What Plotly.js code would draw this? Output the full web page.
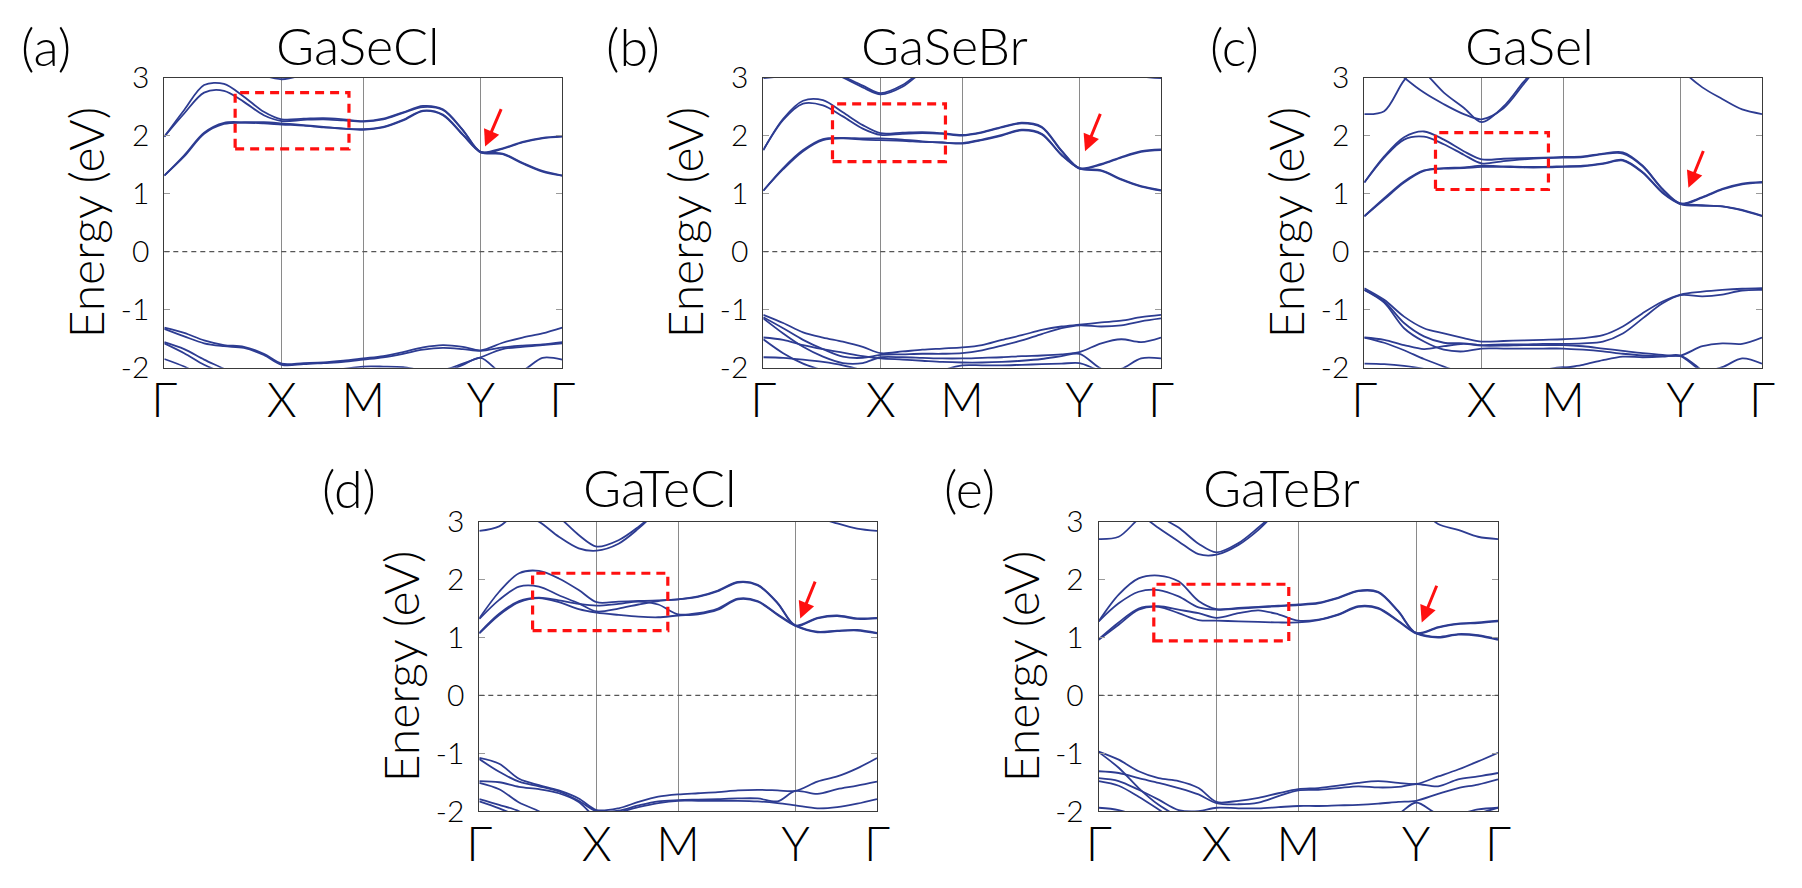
<!DOCTYPE html>
<html><head><meta charset="utf-8">
<script src="https://cdn.plot.ly/plotly-3.0.1.min.js"></script>
<style>html,body{margin:0;padding:0;background:#fff}#chart{width:1802px;height:888px}</style>
</head><body><div id="chart"></div>
<script>
// ---------------- data ----------------
const kPath = [0, 0.05, 0.1, 0.15, 0.2, 0.25, 0.295, 0.35, 0.4, 0.45, 0.5, 0.55, 0.6, 0.65, 0.7, 0.75, 0.795, 0.85, 0.9, 0.95, 1];
const kTicks = [0, 0.295, 0.5, 0.795, 1];
const kLabels = ['Γ', 'X', 'M', 'Y', 'Γ'];
const energyTicks = [-2, -1, 0, 1, 2, 3];
const energyLabels = ['-2', '-1', '0', '1', '2', '3'];
const fermiLevel = 0;
const materials = ['GaSeCl', 'GaSeBr', 'GaSeI', 'GaTeCl', 'GaTeBr'];
const panelTags = ['(a)', '(b)', '(c)', '(d)', '(e)'];

const gaSeCl_bands = [
  [1.31, 1.64, 2.03, 2.20, 2.22, 2.21, 2.19, 2.17, 2.14, 2.12, 2.10, 2.14, 2.26, 2.42, 2.35, 2.01, 1.71, 1.68, 1.52, 1.38, 1.31],
  [1.31, 1.66, 2.05, 2.22, 2.23, 2.23, 2.21, 2.18, 2.15, 2.12, 2.11, 2.15, 2.27, 2.43, 2.36, 2.02, 1.72, 1.69, 1.53, 1.39, 1.31],
  [1.98, 2.38, 2.74, 2.77, 2.58, 2.35, 2.25, 2.27, 2.28, 2.26, 2.24, 2.28, 2.39, 2.49, 2.44, 2.09, 1.71, 1.77, 1.88, 1.95, 1.98],
  [1.98, 2.44, 2.87, 2.89, 2.67, 2.41, 2.28, 2.29, 2.30, 2.28, 2.25, 2.29, 2.40, 2.51, 2.45, 2.10, 1.72, 1.78, 1.89, 1.96, 1.99],
  [3.6, 3.5, 3.4, 3.3, 3.15, 3.03, 2.97, 3.05, 3.2, 3.4, 3.5, 3.5, 3.5, 3.5, 3.5, 3.5, 3.5, 3.5, 3.5, 3.5, 3.6],
  [-1.31, -1.40, -1.53, -1.61, -1.64, -1.76, -1.93, -1.92, -1.91, -1.88, -1.84, -1.80, -1.73, -1.65, -1.61, -1.64, -1.70, -1.57, -1.48, -1.41, -1.31],
  [-1.33, -1.46, -1.58, -1.63, -1.66, -1.78, -1.95, -1.94, -1.92, -1.90, -1.86, -1.82, -1.76, -1.69, -1.66, -1.68, -1.71, -1.65, -1.62, -1.60, -1.56],
  [-1.56, -1.68, -1.86, -2.02, -2.2, -2.3, -2.3, -2.2, -2.1, -2.02, -1.98, -1.98, -1.99, -2.04, -2.04, -1.93, -1.82, -1.68, -1.64, -1.61, -1.58],
  [-1.85, -1.98, -2.15, -2.3, -2.3, -2.3, -2.3, -2.3, -2.3, -2.3, -2.3, -2.3, -2.3, -2.25, -2.1, -1.95, -1.83, -2.1, -2.05, -1.83, -1.86],
  [-1.58, -1.75, -1.95, -2.1, -2.3, -2.3, -2.3, -2.3, -2.3, -2.3, -2.3, -2.3, -2.3, -2.3, -2.3, -2.3, -2.3, -2.3, -2.3, -2.3, -2.3]
];
const gaSeBr_bands = [
  [1.05, 1.42, 1.73, 1.92, 1.95, 1.93, 1.92, 1.91, 1.89, 1.88, 1.86, 1.92, 2.00, 2.09, 2.02, 1.66, 1.43, 1.39, 1.24, 1.12, 1.05],
  [1.05, 1.44, 1.75, 1.94, 1.96, 1.95, 1.95, 1.93, 1.90, 1.88, 1.87, 1.93, 2.01, 2.10, 2.03, 1.67, 1.44, 1.40, 1.25, 1.13, 1.06],
  [1.75, 2.27, 2.55, 2.52, 2.33, 2.12, 2.01, 2.03, 2.04, 2.03, 2.00, 2.05, 2.14, 2.21, 2.14, 1.73, 1.43, 1.50, 1.62, 1.72, 1.75],
  [1.75, 2.29, 2.60, 2.61, 2.40, 2.18, 2.04, 2.05, 2.06, 2.04, 2.01, 2.06, 2.15, 2.22, 2.15, 1.74, 1.44, 1.51, 1.63, 1.73, 1.76],
  [3.6, 3.5, 3.35, 3.15, 3.0, 2.83, 2.71, 2.84, 3.1, 3.3, 3.5, 3.5, 3.5, 3.5, 3.5, 3.5, 3.5, 3.5, 3.5, 3.5, 3.6],
  [3.6, 3.5, 3.37, 3.17, 3.02, 2.86, 2.73, 2.87, 3.12, 3.3, 3.5, 3.5, 3.5, 3.5, 3.5, 3.5, 3.5, 3.5, 3.5, 3.5, 3.6],
  [2.99, 3.03, 3.15, 3.4, 3.5, 3.5, 3.5, 3.5, 3.5, 3.5, 3.5, 3.5, 3.5, 3.5, 3.5, 3.5, 3.5, 3.4, 3.15, 3.02, 2.99],
  [-1.09, -1.23, -1.39, -1.48, -1.55, -1.64, -1.75, -1.72, -1.69, -1.67, -1.65, -1.61, -1.52, -1.44, -1.35, -1.29, -1.26, -1.22, -1.19, -1.13, -1.09],
  [-1.13, -1.32, -1.52, -1.68, -1.81, -1.83, -1.78, -1.77, -1.76, -1.76, -1.75, -1.70, -1.62, -1.53, -1.42, -1.32, -1.27, -1.29, -1.27, -1.20, -1.15],
  [-1.15, -1.41, -1.64, -1.81, -1.92, -1.92, -1.82, -1.82, -1.83, -1.84, -1.84, -1.83, -1.82, -1.80, -1.79, -1.77, -1.73, -1.58, -1.51, -1.56, -1.48],
  [-1.48, -1.52, -1.61, -1.68, -1.74, -1.80, -1.84, -1.86, -1.88, -1.90, -1.91, -1.91, -1.90, -1.88, -1.85, -1.80, -1.76, -2.02, -2.1, -2.1, -2.05],
  [-1.51, -1.75, -1.93, -2.05, -2.2, -2.3, -2.3, -2.3, -2.2, -2.05, -1.96, -1.96, -1.96, -1.95, -1.94, -1.93, -1.92, -2.05, -2.02, -1.84, -1.84],
  [-1.82, -1.83, -1.86, -1.90, -1.96, -2.05, -2.2, -2.3, -2.3, -2.3, -2.3, -2.3, -2.3, -2.3, -2.3, -2.3, -2.3, -2.3, -2.3, -2.3, -2.3]
];
const gaSeI_bands = [
  [0.61, 0.90, 1.19, 1.39, 1.43, 1.44, 1.46, 1.46, 1.45, 1.45, 1.46, 1.47, 1.51, 1.57, 1.36, 1.01, 0.82, 0.79, 0.78, 0.71, 0.61],
  [0.61, 0.92, 1.21, 1.40, 1.44, 1.45, 1.48, 1.47, 1.46, 1.46, 1.47, 1.48, 1.52, 1.58, 1.37, 1.02, 0.83, 0.80, 0.78, 0.72, 0.62],
  [1.19, 1.62, 1.93, 1.98, 1.85, 1.67, 1.52, 1.56, 1.59, 1.61, 1.62, 1.63, 1.68, 1.69, 1.47, 1.07, 0.82, 0.93, 1.07, 1.16, 1.19],
  [1.19, 1.64, 1.97, 2.07, 1.93, 1.73, 1.59, 1.60, 1.61, 1.62, 1.63, 1.64, 1.69, 1.71, 1.48, 1.08, 0.83, 0.94, 1.08, 1.17, 1.20],
  [2.37, 2.42, 2.95, 3.3, 3.5, 3.5, 3.5, 3.5, 3.5, 3.5, 3.5, 3.5, 3.5, 3.5, 3.5, 3.5, 3.15, 2.83, 2.63, 2.45, 2.37],
  [3.6, 3.3, 3.0, 2.74, 2.54, 2.37, 2.28, 2.47, 2.88, 3.3, 3.6, 3.6, 3.6, 3.6, 3.6, 3.6, 3.6, 3.6, 3.6, 3.6, 3.6],
  [3.6, 3.6, 3.4, 3.1, 2.74, 2.48, 2.23, 2.50, 2.92, 3.3, 3.6, 3.6, 3.6, 3.6, 3.6, 3.6, 3.6, 3.6, 3.6, 3.6, 3.6],
  [-0.63, -0.83, -1.12, -1.32, -1.41, -1.49, -1.55, -1.54, -1.53, -1.52, -1.51, -1.49, -1.44, -1.29, -1.06, -0.86, -0.74, -0.69, -0.66, -0.64, -0.63],
  [-0.66, -0.86, -1.23, -1.46, -1.57, -1.58, -1.61, -1.60, -1.60, -1.59, -1.59, -1.58, -1.55, -1.41, -1.15, -0.89, -0.75, -0.77, -0.74, -0.67, -0.66],
  [-0.66, -0.88, -1.32, -1.55, -1.69, -1.72, -1.67, -1.67, -1.67, -1.67, -1.67, -1.69, -1.72, -1.76, -1.79, -1.80, -1.79, -2.05, -2.3, -2.3, -2.3],
  [-1.48, -1.52, -1.61, -1.68, -1.63, -1.59, -1.62, -1.62, -1.61, -1.61, -1.61, -1.63, -1.67, -1.71, -1.75, -1.78, -1.79, -1.63, -1.58, -1.59, -1.48],
  [-1.48, -1.57, -1.70, -1.85, -1.98, -2.1, -2.2, -2.3, -2.2, -2.1, -2.01, -1.95, -1.87, -1.81, -1.82, -1.81, -1.80, -2.05, -1.99, -1.84, -1.93],
  [-1.93, -1.94, -1.97, -2.02, -2.1, -2.2, -2.3, -2.3, -2.2, -2.05, -1.99, -2.05, -2.2, -2.3, -2.3, -2.3, -2.3, -2.3, -2.3, -2.3, -2.3]
];
const gaTeCl_bands = [
  [1.07, 1.39, 1.61, 1.68, 1.61, 1.49, 1.43, 1.39, 1.36, 1.35, 1.38, 1.40, 1.48, 1.66, 1.62, 1.39, 1.20, 1.09, 1.11, 1.12, 1.07],
  [1.08, 1.41, 1.63, 1.69, 1.64, 1.58, 1.55, 1.58, 1.62, 1.57, 1.40, 1.42, 1.50, 1.67, 1.63, 1.40, 1.21, 1.10, 1.12, 1.13, 1.08],
  [1.32, 1.65, 1.88, 1.88, 1.73, 1.59, 1.45, 1.50, 1.57, 1.63, 1.66, 1.70, 1.80, 1.95, 1.90, 1.59, 1.20, 1.33, 1.37, 1.32, 1.33],
  [1.33, 1.79, 2.11, 2.15, 2.02, 1.82, 1.61, 1.62, 1.63, 1.64, 1.66, 1.71, 1.81, 1.96, 1.91, 1.60, 1.21, 1.34, 1.38, 1.33, 1.34],
  [2.84, 2.92, 3.2, 3.4, 3.5, 3.5, 3.5, 3.5, 3.5, 3.5, 3.5, 3.5, 3.5, 3.5, 3.5, 3.5, 3.3, 3.08, 2.97, 2.88, 2.84],
  [3.6, 3.4, 3.15, 3.0, 2.74, 2.54, 2.50, 2.62, 2.88, 3.2, 3.5, 3.5, 3.5, 3.5, 3.5, 3.5, 3.5, 3.5, 3.5, 3.5, 3.6],
  [3.6, 3.6, 3.5, 3.3, 3.08, 2.77, 2.57, 2.68, 2.91, 3.2, 3.5, 3.5, 3.5, 3.5, 3.5, 3.5, 3.5, 3.5, 3.5, 3.5, 3.6],
  [-1.08, -1.18, -1.44, -1.55, -1.64, -1.78, -1.98, -1.95, -1.84, -1.75, -1.71, -1.69, -1.67, -1.64, -1.63, -1.64, -1.65, -1.49, -1.40, -1.26, -1.08],
  [-1.10, -1.32, -1.49, -1.57, -1.66, -1.82, -2.0, -1.99, -1.90, -1.83, -1.81, -1.80, -1.79, -1.78, -1.78, -1.83, -1.65, -1.70, -1.62, -1.56, -1.49],
  [-1.48, -1.50, -1.58, -1.62, -1.69, -1.84, -2.1, -2.02, -1.93, -1.86, -1.82, -1.82, -1.82, -1.82, -1.83, -1.86, -1.90, -1.95, -1.93, -1.87, -1.79],
  [-1.51, -1.62, -1.85, -2.0, -2.2, -2.3, -2.3, -2.3, -2.3, -2.3, -2.3, -2.3, -2.3, -2.3, -2.3, -2.3, -2.3, -2.3, -2.3, -2.3, -2.3],
  [-1.79, -1.89, -2.0, -2.2, -2.3, -2.3, -2.3, -2.3, -2.3, -2.3, -2.3, -2.3, -2.3, -2.3, -2.3, -2.3, -2.3, -2.3, -2.3, -2.3, -2.3],
  [-1.83, -1.95, -2.1, -2.3, -2.3, -2.3, -2.3, -2.3, -2.3, -2.3, -2.3, -2.3, -2.3, -2.3, -2.3, -2.3, -2.3, -2.3, -2.3, -2.3, -2.3]
];
const gaTeBr_bands = [
  [0.96, 1.22, 1.48, 1.53, 1.42, 1.30, 1.29, 1.28, 1.27, 1.26, 1.26, 1.30, 1.39, 1.53, 1.50, 1.28, 1.07, 1.00, 1.05, 1.03, 0.96],
  [0.97, 1.26, 1.50, 1.54, 1.48, 1.42, 1.34, 1.42, 1.47, 1.40, 1.29, 1.31, 1.40, 1.54, 1.51, 1.29, 1.08, 1.01, 1.06, 1.04, 0.97],
  [1.28, 1.59, 1.79, 1.82, 1.71, 1.52, 1.48, 1.50, 1.52, 1.54, 1.56, 1.59, 1.68, 1.80, 1.78, 1.45, 1.07, 1.17, 1.23, 1.25, 1.28],
  [1.28, 1.74, 2.02, 2.07, 1.97, 1.63, 1.49, 1.51, 1.53, 1.55, 1.57, 1.60, 1.69, 1.81, 1.79, 1.46, 1.08, 1.18, 1.24, 1.26, 1.29],
  [2.70, 2.74, 3.05, 3.3, 3.5, 3.5, 3.5, 3.5, 3.5, 3.5, 3.5, 3.5, 3.5, 3.5, 3.5, 3.5, 3.3, 2.96, 2.86, 2.74, 2.70],
  [3.6, 3.4, 3.15, 2.89, 2.66, 2.44, 2.43, 2.60, 2.86, 3.2, 3.5, 3.5, 3.5, 3.5, 3.5, 3.5, 3.5, 3.5, 3.5, 3.5, 3.6],
  [3.6, 3.6, 3.4, 3.1, 2.9, 2.62, 2.47, 2.63, 2.9, 3.2, 3.5, 3.5, 3.5, 3.5, 3.5, 3.5, 3.5, 3.5, 3.5, 3.5, 3.6],
  [-0.97, -1.11, -1.31, -1.43, -1.48, -1.60, -1.84, -1.82, -1.77, -1.69, -1.62, -1.60, -1.56, -1.51, -1.48, -1.51, -1.53, -1.40, -1.28, -1.14, -0.99],
  [-0.98, -1.25, -1.60, -1.89, -2.1, -2.3, -2.3, -2.3, -2.3, -2.3, -2.3, -2.3, -2.3, -2.3, -2.2, -2.05, -1.85, -2.05, -2.05, -1.97, -1.94],
  [-1.31, -1.34, -1.43, -1.51, -1.60, -1.71, -1.86, -1.88, -1.85, -1.74, -1.64, -1.63, -1.60, -1.57, -1.59, -1.58, -1.53, -1.57, -1.45, -1.40, -1.34],
  [-1.43, -1.48, -1.63, -1.80, -1.98, -2.0, -1.94, -1.95, -1.95, -1.93, -1.91, -1.91, -1.90, -1.89, -1.87, -1.84, -1.82, -1.70, -1.60, -1.54, -1.45],
  [-1.48, -1.56, -1.75, -1.97, -2.2, -2.3, -2.3, -2.3, -2.3, -2.3, -2.3, -2.3, -2.3, -2.3, -2.3, -2.3, -2.3, -2.3, -2.3, -2.3, -2.3],
  [-1.94, -1.98, -2.1, -2.3, -2.3, -2.3, -2.3, -2.3, -2.3, -2.3, -2.3, -2.3, -2.3, -2.3, -2.3, -2.3, -2.3, -2.3, -2.2, -2.05, -1.94]
];
// highlighted regions [k0, k1, E0, E1] and arrows [kHead, EHead, kTail, ETail]
const highlightBoxes = [
  [0.178, 0.464, 1.77, 2.74],
  [0.174, 0.458, 1.55, 2.545],
  [0.179, 0.463, 1.07, 2.05],
  [0.134, 0.474, 1.12, 2.11],
  [0.138, 0.476, 0.94, 1.92]
];
const arrowMarks = [
  [0.806, 1.81, 0.848, 2.48],
  [0.809, 1.73, 0.849, 2.40],
  [0.815, 1.10, 0.854, 1.76],
  [0.807, 1.33, 0.846, 1.99],
  [0.809, 1.26, 0.848, 1.92]
];
const allBands = [gaSeCl_bands, gaSeBr_bands, gaSeI_bands, gaTeCl_bands, gaTeBr_bands];

// ---------------- layout geometry (pixels) ----------------
const W = 1802, H = 888;
const plotBoxes = [
  [164.3, 562.3, 77.5, 367.7],
  [763.3, 1161, 77.5, 367.7],
  [1364.3, 1762, 77.5, 367.7],
  [479.3, 877, 521.7, 811.2],
  [1098.7, 1498, 521.7, 811.2]
];
const titlePos = [[358, 45], [945, 45], [1529.6, 45], [660.4, 487], [1281.5, 487]];
const tagPos = [[45.5, 46], [632.5, 46], [1234, 46], [349, 488], [969.6, 488]];

const FONT = 'Lato, "Open Sans", sans-serif';
const BAND_COLOR = '#2d3c92';
const RED = '#ff1010';

const traces = [];
const layout = {
  width: W, height: H,
  margin: {l: 0, r: 0, t: 0, b: 0},
  paper_bgcolor: '#ffffff', plot_bgcolor: '#ffffff',
  showlegend: false,
  shapes: [], annotations: []
};
const px2x = p => p / W, py2y = p => 1 - p / H;

allBands.forEach((bands, i) => {
  const sfx = i === 0 ? '' : String(i + 1);
  const xa = 'x' + sfx, ya = 'y' + sfx;
  const b = plotBoxes[i];
  bands.forEach(band => {
    traces.push({
      x: kPath, y: band, xaxis: xa, yaxis: ya, type: 'scatter', mode: 'lines',
      line: {color: BAND_COLOR, width: 1.8, shape: 'spline', smoothing: 0.9},
      hoverinfo: 'skip', showlegend: false
    });
  });
  layout['xaxis' + sfx] = {
    domain: [px2x(b[0]), px2x(b[1])], anchor: ya, range: [0, 1],
    tickmode: 'array', tickvals: kTicks, ticktext: kLabels,
    ticks: '', showgrid: true, gridcolor: '#8a8a8a', gridwidth: 1,
    showline: true, mirror: true, linecolor: '#3a3a3a', linewidth: 1,
    zeroline: false, fixedrange: true, ticklabelstandoff: -9,
    tickfont: {family: FONT, size: 48, color: '#000', weight: 300}
  };
  layout['yaxis' + sfx] = {
    domain: [py2y(b[3]), py2y(b[2])], anchor: xa, range: [-2, 3],
    tickmode: 'array', tickvals: energyTicks, ticktext: energyLabels,
    ticks: 'inside', ticklen: 6, tickcolor: '#9a9a9a', tickwidth: 1,
    showline: true, mirror: 'ticks', linecolor: '#3a3a3a', linewidth: 1,
    showgrid: false, zeroline: false, fixedrange: true,
    ticklabelstandoff: 8,
    tickfont: {family: FONT, size: 30, color: '#000', weight: 300},
    title: {text: 'Energy (eV)', standoff: 0, font: {family: FONT, size: 48, color: '#000', weight: 300}}
  };
  // Fermi level
  layout.shapes.push({type: 'line', xref: xa + ' domain', yref: ya, x0: 0, x1: 1, y0: fermiLevel, y1: fermiLevel,
    line: {color: '#555', width: 1.2, dash: '5px,4px'}});
  // highlight box
  const hb = highlightBoxes[i];
  layout.shapes.push({type: 'rect', xref: xa, yref: ya, x0: hb[0], x1: hb[1], y0: hb[2], y1: hb[3],
    line: {color: RED, width: 3.2, dash: '9px,6px'}, fillcolor: 'rgba(0,0,0,0)'});
  // arrow
  const am = arrowMarks[i];
  layout.annotations.push({xref: xa, yref: ya, axref: xa, ayref: ya, x: am[0], y: am[1], ax: am[2], ay: am[3],
    text: '', showarrow: true, arrowhead: 2, arrowsize: 1.1, arrowwidth: 3, arrowcolor: RED, standoff: 0});
  // material title
  layout.annotations.push({xref: 'paper', yref: 'paper', x: px2x(titlePos[i][0]), y: py2y(titlePos[i][1]),
    xanchor: 'center', yanchor: 'middle', showarrow: false, text: materials[i],
    font: {family: FONT, size: 52, color: '#000', weight: 300}});
  // panel tag
  layout.annotations.push({xref: 'paper', yref: 'paper', x: px2x(tagPos[i][0]), y: py2y(tagPos[i][1]),
    xanchor: 'center', yanchor: 'middle', showarrow: false, text: panelTags[i],
    font: {family: FONT, size: 52, color: '#000', weight: 300}});
});

Plotly.newPlot('chart', traces, layout, {displayModeBar: false, staticPlot: true});
</script>
</body></html>
